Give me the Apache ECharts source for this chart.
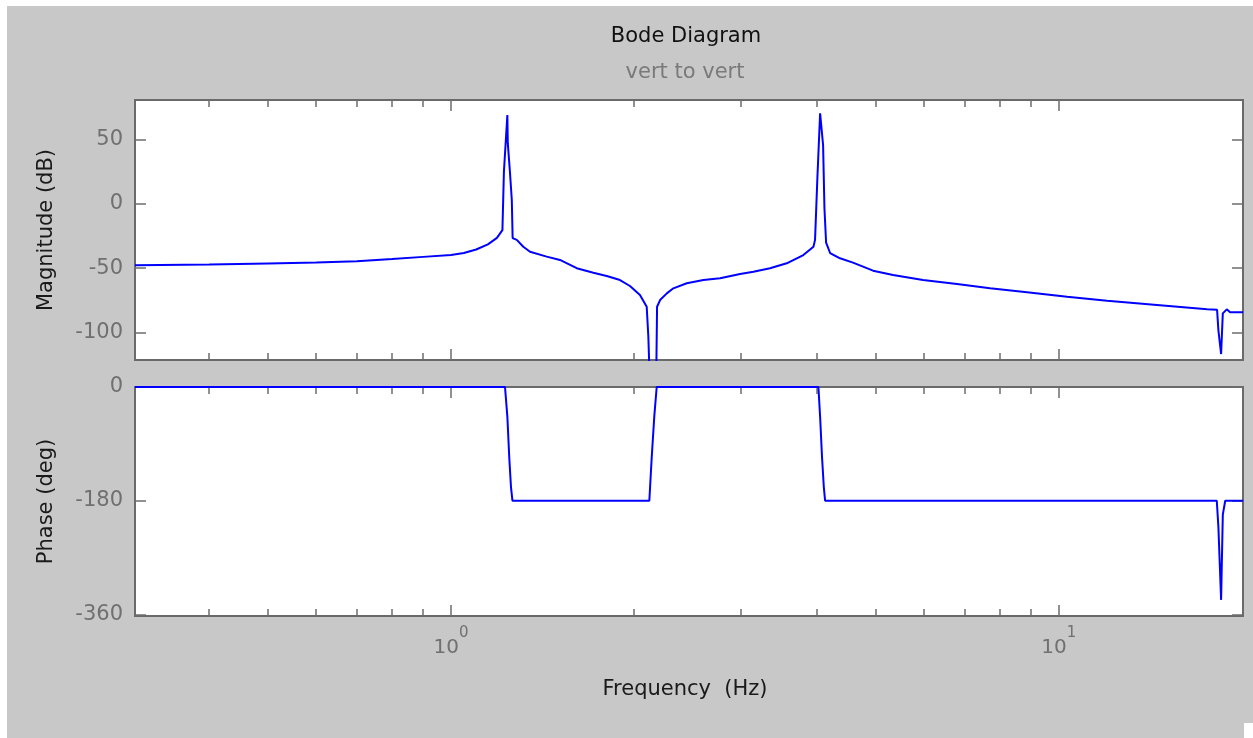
<!DOCTYPE html>
<html>
<head>
<meta charset="utf-8">
<script src="https://cdn.jsdelivr.net/npm/echarts@6/dist/echarts.min.js"></script>
<style>
  html, body { margin: 0; padding: 0; background: #ffffff; width: 1253px; height: 738px; overflow: hidden; }
  #bg { position: absolute; left: 7px; top: 6px; width: 1246px; height: 732px; background: #c8c8c8; }
  #corner { position: absolute; left: 1244px; top: 723px; width: 9px; height: 15px; background: #ffffff; }
  #chart { position: absolute; left: 0; top: 0; width: 1253px; height: 738px; }
</style>
</head>
<body>
<div id="bg"></div>
<div id="corner"></div>
<div id="chart"></div>
<script>
// ---- data ----
const magFreq = [0.302, 0.40, 0.50, 0.60, 0.70, 0.80, 0.90, 1.00, 1.05, 1.10, 1.15, 1.19, 1.215,
  1.221, 1.222, 1.238, 1.240, 1.250, 1.259, 1.263,
  1.283, 1.315, 1.349, 1.437, 1.511, 1.610, 1.715, 1.804, 1.897, 1.970, 2.046, 2.099,
  2.112, 2.131, 2.173, 2.183,
  2.208, 2.265, 2.322, 2.443, 2.602, 2.772, 2.990, 3.145, 3.349, 3.568, 3.800, 3.948, 3.972,
  4.008, 4.049, 4.095, 4.116, 4.142,
  4.205, 4.366, 4.586, 4.948, 5.338, 5.980, 6.802, 7.709, 8.867, 10.32, 12.01, 14.51, 17.54,
  18.22, 18.31, 18.50, 18.62, 18.90, 19.14, 20.11];
const magDb = [-47.6, -47.2, -46.3, -45.5, -44.5, -42.9, -41.2, -39.7, -38.2, -35.5, -31.5, -26.5, -20.5,
  -19.0, 25.0, 68.9, 47.0, 25.0, 2.9, -26.6,
  -28.0, -33.3, -37.2, -41.0, -43.6, -50.0, -53.5, -56.0, -59.2, -63.8, -70.8, -79.9,
  -103.0, -160.0, -160.0, -79.9,
  -74.7, -69.5, -65.6, -61.7, -59.2, -57.8, -54.5, -52.7, -50.0, -46.2, -39.8, -33.3, -28.0,
  21.0, 70.2, 45.5, -3.5, -30.2,
  -38.2, -42.3, -45.7, -51.9, -55.3, -59.2, -62.3, -65.6, -68.7, -72.1, -75.2, -78.5, -81.9,
  -82.2, -98.0, -116.6, -85.0, -81.9, -84.2, -84.2];

const phaseFreq = [0.302, 1.227, 1.238, 1.247, 1.255, 1.262,
  2.120, 2.139, 2.160, 2.180,
  4.023, 4.049, 4.079, 4.106, 4.126,
  18.20, 18.31, 18.50, 18.62, 18.79, 20.11];
const phaseDeg = [0, 0, -47, -112, -158, -180,
  -180, -112, -47, 0,
  0, -47, -112, -158, -180,
  -180, -221, -337, -202, -180, -180];

const magTicks = [50, 0, -50, -100];
const phaseTicks = [0, -180, -360];
const freqMajorTicks = [1, 10];
const freqMinorTicks = [0.4, 0.5, 0.6, 0.7, 0.8, 0.9, 2, 3, 4, 5, 6, 7, 8, 9];

const titleText = 'Bode Diagram';
const subtitleText = 'vert to vert';
const xName = 'Frequency  (Hz)';
const magName = 'Magnitude (dB)';
const phaseName = 'Phase (deg)';
</script>
<script>
const magData = magFreq.map((f, i) => [f, magDb[i]]);
const phaseData = phaseFreq.map((f, i) => [f, phaseDeg[i]]);

const FONT = 'DejaVu Sans';
const AX = '#6e6e6e';
const xMin = 0.302, xMax = 20.1;

function xAxes(gridIndex, position, showLabels) {
  const base = {
    type: 'log', logBase: 10, gridIndex, position, min: xMin, max: xMax, offset: 0,
    axisLine: { show: false, onZero: false }, splitLine: { show: false }, minorTick: { show: false }
  };
  return [
    Object.assign({}, base, {
      axisTick: { show: true, inside: true, length: 11, customValues: freqMajorTicks,
        lineStyle: { color: AX, width: 1.5 } },
      axisLabel: showLabels ? {
        show: true, margin: 10, customValues: freqMajorTicks,
        formatter: v => '{b|10}{s|' + Math.round(Math.log10(v)) + '}',
        rich: {
          b: { fontFamily: FONT, fontSize: 20, color: '#707070', lineHeight: 32, verticalAlign: 'bottom' },
          s: { fontFamily: FONT, fontSize: 15, color: '#707070', lineHeight: 32, verticalAlign: 'top' }
        }
      } : { show: false }
    }),
    Object.assign({}, base, {
      axisTick: { show: true, inside: true, length: 7, customValues: freqMinorTicks,
        lineStyle: { color: AX, width: 1.5 } },
      axisLabel: { show: false }
    })
  ];
}

function yAxes(gridIndex, min, max, ticks, name, nameGap) {
  return [
    {
      type: 'value', gridIndex, position: 'left', min, max, offset: 0,
      name, nameLocation: 'middle', nameGap, nameRotate: 90,
      nameTextStyle: { fontFamily: FONT, fontSize: 21, color: '#1a1a1a' },
      axisLine: { show: false, onZero: false }, splitLine: { show: false },
      axisTick: { show: true, inside: true, length: 11, customValues: ticks, lineStyle: { color: AX, width: 1.5 } },
      axisLabel: { show: true, customValues: ticks, margin: 12, fontFamily: FONT, fontSize: 21, color: '#707070' }
    },
    {
      type: 'value', gridIndex, position: 'right', min, max, offset: 0,
      axisLine: { show: false, onZero: false }, splitLine: { show: false },
      axisTick: { show: true, inside: true, length: 11, customValues: ticks, lineStyle: { color: AX, width: 1.5 } },
      axisLabel: { show: false }
    }
  ];
}

const chart = echarts.init(document.getElementById('chart'), null, { renderer: 'canvas' });
const gridBase = { show: true, backgroundColor: '#ffffff', borderColor: '#6a6a6a', borderWidth: 2, outerBoundsMode: 'none', containLabel: false };
chart.setOption({
  animation: false,
  backgroundColor: 'transparent',
  grid: [
    Object.assign({}, gridBase, { left: 135, top: 100, width: 1108, height: 260 }),
    Object.assign({}, gridBase, { left: 135, top: 387, width: 1108, height: 229 })
  ],
  xAxis: [].concat(
    xAxes(0, 'bottom', false), xAxes(0, 'top', false),
    xAxes(1, 'bottom', true), xAxes(1, 'top', false)
  ),
  yAxis: [].concat(
    yAxes(0, -121.2, 80.5, magTicks, magName, 78),
    yAxes(1, -362.5, 0, phaseTicks, phaseName, 78)
  ),
  graphic: [
    { type: 'text', x: 686, y: 37, style: { text: titleText, fontFamily: FONT, fontSize: 21, fill: '#111111', align: 'center', verticalAlign: 'middle' } },
    { type: 'text', x: 685, y: 73, style: { text: subtitleText, fontFamily: FONT, fontSize: 21, fill: '#7a7a7a', align: 'center', verticalAlign: 'middle' } },
    { type: 'text', x: 685, y: 690, style: { text: xName, fontFamily: FONT, fontSize: 21, fill: '#1a1a1a', align: 'center', verticalAlign: 'middle' } }
  ],
  series: [
    { type: 'line', xAxisIndex: 0, yAxisIndex: 0, data: magData, showSymbol: false, clip: true,
      lineStyle: { color: '#0000ff', width: 2 }, silent: true },
    { type: 'line', xAxisIndex: 4, yAxisIndex: 2, data: phaseData, showSymbol: false, clip: true,
      lineStyle: { color: '#0000ff', width: 2 }, silent: true }
  ]
});
</script>
</body>
</html>
